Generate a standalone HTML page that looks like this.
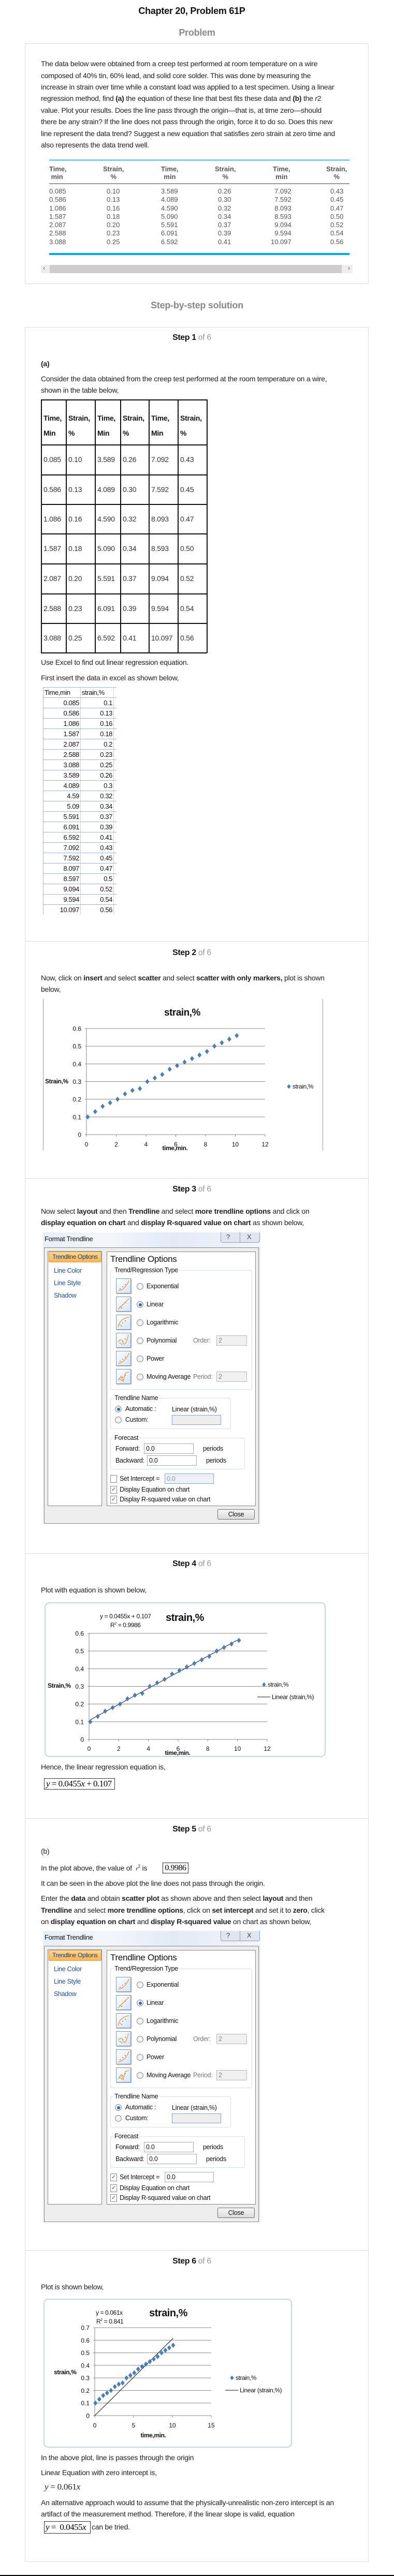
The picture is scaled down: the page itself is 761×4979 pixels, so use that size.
<!DOCTYPE html>
<html><head><meta charset="utf-8">
<style>
html,body{margin:0;padding:0;background:#fff;}
body{position:relative;width:761px;height:4979px;overflow:hidden;font-family:"Liberation Sans",sans-serif;}
.t{position:absolute;white-space:nowrap;font-size:14px;line-height:16px;color:#222;letter-spacing:-0.25px;}
.b{font-weight:bold;}
.box{position:absolute;border:1px solid #ddd;box-sizing:border-box;}
.hr{position:absolute;left:48px;width:664px;height:1px;background:#ddd;}
.step{position:absolute;left:0;width:741px;text-align:center;font-size:16px;line-height:18px;font-weight:bold;color:#111;letter-spacing:-0.4px;}
.step span{font-weight:normal;color:#999;}
.pt{position:absolute;font-size:13px;line-height:15px;color:#555;white-space:nowrap;}
.dlg{position:absolute;left:83px;width:420px;height:563px;font-size:12.5px;letter-spacing:-0.3px;color:#111;}
.dlg .a{position:absolute;white-space:nowrap;line-height:14px;}
svg text{font-family:"Liberation Sans",sans-serif;}
</style></head>
<body>

<div class="t b" style="left:0;width:741px;text-align:center;top:11px;font-size:18px;line-height:20px;color:#111;">Chapter 20, Problem 61P</div>
<div class="t b" style="left:0;width:761px;text-align:center;top:53px;font-size:18px;line-height:20px;color:#888;">Problem</div>

<div class="box" style="left:48px;top:84px;width:664px;height:465px;"></div>
<div>
<div class="t" style="left:79px;top:115px;">The data below were obtained from a creep test performed at room temperature on a wire</div>
<div class="t" style="left:79px;top:138px;">composed of 40% tin, 60% lead, and solid core solder. This was done by measuring the</div>
<div class="t" style="left:79px;top:160px;">increase in strain over time while a constant load was applied to a test specimen. Using a linear</div>
<div class="t" style="left:79px;top:182px;">regression method, find <b>(a)</b> the equation of these line that best fits these data and <b>(b)</b> the <i>r</i>2</div>
<div class="t" style="left:79px;top:205px;">value. Plot your results. Does the line pass through the origin—that is, at time zero—should</div>
<div class="t" style="left:79px;top:227px;">there be any strain? If the line does not pass through the origin, force it to do so. Does this new</div>
<div class="t" style="left:79px;top:250px;">line represent the data trend? Suggest a new equation that satisfies zero strain at zero time and</div>
<div class="t" style="left:79px;top:272px;">also represents the data trend well.</div>
</div>

<div>
<div style="position:absolute;left:95px;top:308px;width:580px;height:3px;background:#7fd0f0;"></div>
<div style="position:absolute;left:95px;top:354px;width:580px;height:2px;background:#999;"></div>
<div style="position:absolute;left:95px;top:489px;width:580px;height:4px;background:#00aeef;"></div>
<div class="pt b" style="left:95px;top:319px;">Time,<br>&nbsp;min</div>
<div class="pt b" style="left:199px;top:319px;text-align:center;">Strain,<br>%</div>
<div class="pt b" style="left:311px;top:319px;text-align:center;">Time,<br>min</div>
<div class="pt b" style="left:415px;top:319px;text-align:center;">Strain,<br>%</div>
<div class="pt b" style="left:527px;top:319px;text-align:center;">Time,<br>min</div>
<div class="pt b" style="left:630px;top:319px;text-align:center;">Strain,<br>%</div>
<div class="pt" style="left:95px;top:362px;line-height:16.3px;">0.085<br>0.586<br>1.086<br>1.587<br>2.087<br>2.588<br>3.088</div>
<div class="pt" style="left:206px;top:362px;line-height:16.3px;">0.10<br>0.13<br>0.16<br>0.18<br>0.20<br>0.23<br>0.25</div>
<div class="pt" style="left:311px;top:362px;line-height:16.3px;">3.589<br>4.089<br>4.590<br>5.090<br>5.591<br>6.091<br>6.592</div>
<div class="pt" style="left:421px;top:362px;line-height:16.3px;">0.26<br>0.30<br>0.32<br>0.34<br>0.37<br>0.39<br>0.41</div>
<div class="pt" style="left:523px;top:362px;line-height:16.3px;text-align:right;">7.092<br>7.592<br>8.093<br>8.593<br>9.094<br>9.594<br>10.097</div>
<div class="pt" style="left:638px;top:362px;line-height:16.3px;">0.43<br>0.45<br>0.47<br>0.50<br>0.52<br>0.54<br>0.56</div>
</div>
<div style="position:absolute;left:79px;top:512px;width:602px;height:16px;background:#eee;">
<div style="position:absolute;left:17px;top:0;width:564px;height:16px;background:#ccc;"></div>
<div style="position:absolute;left:4px;top:-1px;font-size:12px;color:#555;">‹</div>
<div style="position:absolute;right:5px;top:-1px;font-size:12px;color:#555;">›</div>
</div>

<div class="t b" style="left:0;width:761px;text-align:center;top:580px;font-size:18px;line-height:20px;color:#888;">Step-by-step solution</div>

<div class="box" style="left:48px;top:632px;width:664px;height:4320px;"></div>
<div class="hr" style="top:1819px;"></div>
<div class="hr" style="top:2277px;"></div>
<div class="hr" style="top:3002px;"></div>
<div class="hr" style="top:3514px;"></div>
<div class="hr" style="top:4349px;"></div>

<!-- Step 1 -->
<div class="step" style="top:644px;">Step 1 <span>of 6</span></div>
<div class="t b" style="left:79px;top:695px;">(a)</div>
<div class="t" style="left:79px;top:724px;">Consider the data obtained from the creep test performed at the room temperature on a wire,</div>
<div class="t" style="left:79px;top:746px;">shown in the table below,</div>

<div id="t1" style="position:absolute;left:79px;top:772px;width:321px;height:490px;"></div>

<div class="t" style="left:79px;top:1272px;">Use Excel to find out linear regression equation.</div>
<div class="t" style="left:79px;top:1302px;">First insert the data in excel as shown below,</div>
<div id="xl" style="position:absolute;left:83px;top:1328px;width:142px;height:440px;"></div>

<!-- Step 2 -->
<div class="step" style="top:1833px;">Step 2 <span>of 6</span></div>
<div class="t" style="left:79px;top:1882px;">Now, click on <b>insert</b> and select <b>scatter</b> and select <b>scatter with only markers,</b> plot is shown</div>
<div class="t" style="left:79px;top:1904px;">below,</div>
<svg id="c1" style="position:absolute;left:0;top:1931px;" width="761" height="294" viewBox="0 1931 761 294"></svg>

<!-- Step 3 -->
<div class="step" style="top:2290px;">Step 3 <span>of 6</span></div>
<div class="t" style="left:79px;top:2333px;">Now select <b>layout</b> and then <b>Trendline</b> and select <b>more trendline options</b> and click on</div>
<div class="t" style="left:79px;top:2355px;"><b>display equation on chart</b> and <b>display R-squared value on chart</b> as shown below,</div>
<div class="dlg" id="d1" style="top:2382px;"></div>

<!-- Step 4 -->
<div class="step" style="top:3014px;">Step 4 <span>of 6</span></div>
<div class="t" style="left:79px;top:3065px;">Plot with equation is shown below,</div>
<svg id="c2" style="position:absolute;left:0;top:3092px;" width="761" height="305" viewBox="0 3092 761 305"></svg>
<div class="t" style="left:79px;top:3407px;">Hence, the linear regression equation is,</div>
<div style="position:absolute;left:85px;top:3437px;width:132px;height:20px;border:1px solid #333;font-family:'Liberation Serif',serif;font-size:17px;line-height:20px;white-space:nowrap;letter-spacing:-0.5px;padding-left:3px;"><i>y</i> = 0.0455<i>x</i> + 0.107</div>

<!-- Step 5 -->
<div class="step" style="top:3527px;">Step 5 <span>of 6</span></div>
<div class="t" style="left:79px;top:3570px;">(b)</div>
<div class="t" style="left:79px;top:3600px;">In the plot above, the value of &nbsp;<span style="font-family:'Liberation Serif',serif;font-style:italic;font-size:12px;">r</span><sup style="font-size:8px;">2</sup> is</div>
<div style="position:absolute;left:314px;top:3600px;width:48px;height:19px;border:1px solid #333;font-family:'Liberation Serif',serif;font-size:16px;line-height:19px;text-align:center;letter-spacing:-0.5px;">0.9986</div>
<div class="t" style="left:79px;top:3632px;">It can be seen in the above plot the line does not pass through the origin.</div>
<div class="t" style="left:79px;top:3661px;">Enter the <b>data</b> and obtain <b>scatter plot</b> as shown above and then select <b>layout</b> and then</div>
<div class="t" style="left:79px;top:3684px;"><b>Trendline</b> and select <b>more trendline options</b>, click on <b>set intercept</b> and set it to <b>zero</b>, click</div>
<div class="t" style="left:79px;top:3706px;">on <b>display equation on chart</b> and <b>display R-squared value</b> on chart as shown below,</div>
<div class="dlg" id="d2" style="top:3732px;"></div>

<!-- Step 6 -->
<div class="step" style="top:4362px;">Step 6 <span>of 6</span></div>
<div class="t" style="left:79px;top:4412px;">Plot is shown below,</div>
<svg id="c3" style="position:absolute;left:0;top:4440px;" width="761" height="292" viewBox="0 4440 761 292"></svg>
<div class="t" style="left:79px;top:4742px;">In the above plot, line is passes through the origin</div>
<div class="t" style="left:79px;top:4771px;">Linear Equation with zero intercept is,</div>
<div class="t" style="left:86px;top:4797px;font-family:'Liberation Serif',serif;font-size:17px;line-height:20px;"><i>y</i> = 0.061<i>x</i></div>
<div class="t" style="left:79px;top:4829px;">An alternative approach would to assume that the physically-unrealistic non-zero intercept is an</div>
<div class="t" style="left:79px;top:4851px;">artifact of the measurement method. Therefore, if the linear slope is valid, equation</div>
<div style="position:absolute;left:85px;top:4873px;width:86px;height:22px;border:1px solid #333;font-family:'Liberation Serif',serif;font-size:17px;line-height:22px;white-space:nowrap;letter-spacing:-0.5px;padding-left:2px;"><i>y</i> = &nbsp;0.0455<i>x</i></div>
<div class="t" style="left:177px;top:4876px;">can be tried.</div>

<div style="position:absolute;left:0;top:4977px;width:761px;height:2px;background:#000;"></div>

<script>
// ---- data ----
const times = [0.085,0.586,1.086,1.587,2.087,2.588,3.088,3.589,4.089,4.59,5.09,5.591,6.091,6.592,7.092,7.592,8.097,8.597,9.094,9.594,10.097];
const strains = [0.10,0.13,0.16,0.18,0.20,0.23,0.25,0.26,0.30,0.32,0.34,0.37,0.39,0.41,0.43,0.45,0.47,0.50,0.52,0.54,0.56];
const tableTimes = ["0.085","0.586","1.086","1.587","2.087","2.588","3.088","3.589","4.089","4.590","5.090","5.591","6.091","6.592","7.092","7.592","8.093","8.593","9.094","9.594","10.097"];
const tableStrains = ["0.10","0.13","0.16","0.18","0.20","0.23","0.25","0.26","0.30","0.32","0.34","0.37","0.39","0.41","0.43","0.45","0.47","0.50","0.52","0.54","0.56"];
const excelTimes = ["0.085","0.586","1.086","1.587","2.087","2.588","3.088","3.589","4.089","4.59","5.09","5.591","6.091","6.592","7.092","7.592","8.097","8.597","9.094","9.594","10.097"];
const excelStrains = ["0.1","0.13","0.16","0.18","0.2","0.23","0.25","0.26","0.3","0.32","0.34","0.37","0.39","0.41","0.43","0.45","0.47","0.5","0.52","0.54","0.56"];
const ticks12 = [0,2,4,6,8,10,12];
const ticks15 = [0,5,10,15];
const yTicks6 = [0,0.1,0.2,0.3,0.4,0.5,0.6];
const yTicks7 = [0,0.1,0.2,0.3,0.4,0.5,0.6,0.7];
const fit1 = [0.0455, 0.107];
const fit2 = [0.061, 0];

// ---- step 1 table ----
(function(){
  const t = document.getElementById('t1');
  const colX = [0,48,104,153,208,264,320];
  const rowY = [0,87,145,202,259,317,375,432,489];
  let h = '';
  colX.forEach(x=>{h += '<div style="position:absolute;left:'+x+'px;top:0;width:1.5px;height:490px;background:#111"></div>';});
  [0,87,145,202,259,317,375,432,489].forEach(y=>{h += '<div style="position:absolute;left:0;top:'+y+'px;width:321px;height:1.5px;background:#111"></div>';});
  t.innerHTML = h;
  const heads = ['Time,','Strain,','Time,','Strain,','Time,','Strain,'];
  const heads2 = ['Min','%','Min','%','Min','%'];
  for (let c=0;c<6;c++){
    const d = document.createElement('div');
    d.className='t b';
    
    
    d.style.left=(colX[c]+5)+'px'; d.style.top='22px'; d.style.lineHeight='29px'; d.style.color='#111';
    d.innerHTML = heads[c]+'<br>'+heads2[c];
    t.appendChild(d);
  }
  for (let r=0;r<7;r++){
    for (let g=0;g<3;g++){
      const i = g*7+r;
      const a = document.createElement('div');
      a.className='t';
      
      
      a.style.left=(colX[g*2]+5)+'px'; a.style.top=(rowY[r+1]+21)+'px'; a.style.color='#333';
      a.textContent = tableTimes[i];
      t.appendChild(a);
      const b = document.createElement('div');
      b.className='t';
      
      
      b.style.left=(colX[g*2+1]+5)+'px'; b.style.top=(rowY[r+1]+21)+'px'; b.style.color='#333';
      b.textContent = tableStrains[i];
      t.appendChild(b);
    }
  }
})();

// ---- excel sheet ----
(function(){
  const x = document.getElementById('xl');
  let h = '<div style="position:absolute;left:0;top:0;width:1px;height:440px;background:#9fb6d6"></div>'+
          '<div style="position:absolute;left:72px;top:0;width:1px;height:440px;background:#c8d4e4"></div>'+
          '<div style="position:absolute;left:136px;top:0;width:1px;height:440px;background:#c8d4e4"></div>';
  for (let r=0;r<=21;r++) h += '<div style="position:absolute;left:0;top:'+(r*20)+'px;width:142px;height:1px;background:#9fb6d6"></div>';
  h += '<div class="t" style="left:3px;top:3px;font-size:13px;letter-spacing:-0.4px;color:#111">Time,min</div>';
  h += '<div class="t" style="left:75px;top:3px;font-size:13px;letter-spacing:-0.4px;color:#111">strain,%</div>';
  x.innerHTML = h;
  for (let r=0;r<excelTimes.length;r++){
    const a = document.createElement('div');
    a.className='t';
    
    
    a.style.cssText += 'right:72px;top:'+(r*20+23)+'px;font-size:13px;letter-spacing:-0.4px;color:#111;';
    a.textContent = excelTimes[r];
    x.appendChild(a);
    const b = document.createElement('div');
    b.className='t';
    
    
    b.style.cssText += 'right:8px;top:'+(r*20+23)+'px;font-size:13px;letter-spacing:-0.4px;color:#111;';
    b.textContent = excelStrains[r];
    x.appendChild(b);
  }
})();

// ---- charts ----
const NS='http://www.w3.org/2000/svg';
function el(svg, tag, attrs, txt){
  const e=document.createElementNS(NS,tag);
  for (const k in attrs) e.setAttribute(k, attrs[k]);
  if (txt!==undefined) e.textContent=txt;
  svg.appendChild(e); return e;
}
function drawChart(id, o){
  const svg=document.getElementById(id);
  const xs = v => o.x0 + v/o.xmax*(o.x1-o.x0);
  const ys = v => o.y0 - v/o.ymax*(o.y0-o.y1);
  if (o.frame){
    const f = el(svg,'rect',{x:o.frame[0],y:o.frame[1],width:o.frame[2],height:o.frame[3],rx:8,fill:'none',stroke:'#b4ccd2','stroke-width':1.5});
    
    
  }
  o.yTicks.forEach(v=>{
    if (v>0){
      const g = el(svg,'line',{x1:o.x0,x2:o.x1,y1:ys(v),y2:ys(v),stroke:'#8a8a8a','stroke-width':1});
      
      
    }
    const l = el(svg,'text',{x:o.x0-10,y:ys(v)+4.5,'text-anchor':'end','font-size':12,fill:'#111'}, String(v));
    
    
    el(svg,'line',{x1:o.x0-3,x2:o.x0,y1:ys(v),y2:ys(v),stroke:'#8a8a8a'});
  });
  const ax = el(svg,'path',{d:'M'+o.x0+' '+o.y1+' V'+o.y0+' H'+o.x1,stroke:'#8a8a8a',fill:'none'});
  
  
  o.xTicks.forEach(v=>{
    el(svg,'line',{x1:xs(v),x2:xs(v),y1:o.y0,y2:o.y0+4,stroke:'#8a8a8a'});
    const l = el(svg,'text',{x:xs(v),y:o.xLabY,'text-anchor':'middle','font-size':12,fill:'#111'}, String(v));
    
    
  });
  if (o.fit){
    const xa=o.fitRange[0], xb=o.fitRange[1];
    const ln = el(svg,'line',{x1:xs(xa),y1:ys(o.fit[0]*xa+o.fit[1]),x2:xs(xb),y2:ys(o.fit[0]*xb+o.fit[1]),stroke:'#111','stroke-width':1});
    
    
  }
  for (let i=0;i<times.length;i++){
    const cx=xs(times[i]), cy=ys(strains[i]), s=o.ms;
    const p = el(svg,'path',{d:'M'+cx+' '+(cy-s)+' L'+(cx+s*0.8)+' '+cy+' L'+cx+' '+(cy+s)+' L'+(cx-s*0.8)+' '+cy+' Z',fill:'#4a7ebb'});
    
    
  }
  const tt = el(svg,'text',{x:o.title[0],y:o.title[1],'text-anchor':'middle','font-size':o.title[2],'font-weight':'bold',fill:'#111','letter-spacing':'-0.5'},'strain,%');
  
  
  const yt = el(svg,'text',{x:o.yTitle[0],y:o.yTitle[1],'font-size':12,'font-weight':'bold',fill:'#111','letter-spacing':'-0.4'},o.yTitle[2]);
  
  
  const xt = el(svg,'text',{x:o.xTitle[0],y:o.xTitle[1],'text-anchor':'middle','font-size':12,'font-weight':'bold',fill:'#111','letter-spacing':'-0.4'},'time,min.');
  
  
  const lx=o.legend[0], ly=o.legend[1];
  el(svg,'path',{d:'M'+lx+' '+(ly-4.5)+' l3.6 4.5 l-3.6 4.5 l-3.6 -4.5 Z',fill:'#4a7ebb'});
  const lt = el(svg,'text',{x:lx+7,y:ly+4,'font-size':12,fill:'#111','letter-spacing':'-0.4'},'strain,%');
  
  
  if (o.fit){
    el(svg,'line',{x1:lx-13,x2:lx+12,y1:ly+24,y2:ly+24,stroke:'#111'});
    const lt2 = el(svg,'text',{x:lx+15,y:ly+28,'font-size':12,fill:'#111','letter-spacing':'-0.4'},'Linear (strain,%)');
    
    
  }
  if (o.eq){
    const e1 = el(svg,'text',{x:o.eq[0],y:o.eq[1],'font-size':12,fill:'#111','letter-spacing':'-0.4'},o.eq[2]);
    
    
    const e2 = el(svg,'text',{x:o.eq[3],y:o.eq[4],'font-size':12,fill:'#111','letter-spacing':'-0.4'});
    
    
    e2.innerHTML = 'R<tspan font-size="7" dy="-5">2</tspan><tspan dy="5"> = '+o.eq[5]+'</tspan>';
  }
}
// chart 1 borders
(function(){
  const s=document.getElementById('c1');
  el(s,'line',{x1:83.5,x2:83.5,y1:1931,y2:2224,stroke:'#999'});
  el(s,'line',{x1:623.5,x2:623.5,y1:1931,y2:2224,stroke:'#999'});
})();
drawChart('c1',{x0:167,x1:512,xmax:12,y0:2193,y1:1988,ymax:0.6,xTicks:ticks12,yTicks:yTicks6,xLabY:2216,ms:5,
  title:[352,1963,19],yTitle:[87,2094,'Strain,%'],xTitle:[338,2223],legend:[558,2100]});
drawChart('c2',{x0:172,x1:516,xmax:12,y0:3362,y1:3157,ymax:0.6,xTicks:ticks12,yTicks:yTicks6,xLabY:3384,ms:5,
  frame:[87,3098,541,297],fit:fit1,fitRange:[0.085,10.097],
  title:[357,3133,20],yTitle:[92,3262,'Strain,%'],xTitle:[343,3392],legend:[510,3256],
  eq:[193,3128,'y = 0.0455x + 0.107',213,3145,'0.9986']});
drawChart('c3',{x0:183,x1:408,xmax:15,y0:4669,y1:4499,ymax:0.7,xTicks:ticks15,yTicks:yTicks7,xLabY:4692,ms:5,
  frame:[85,4444,478,286],fit:fit2,fitRange:[0,10.1],
  title:[325,4477,20],yTitle:[104,4589,'strain,%'],xTitle:[296,4711],legend:[448,4596],
  eq:[185,4474,'y = 0.061x',186,4491,'0.841']});

// ---- dialogs ----
function icon(kind){
  const paths={exp:'M4 24 Q18 22 25 4',lin:'M4 25 L25 4',log:'M4 25 Q6 8 25 5',poly:'M4 18 Q10 8 14 20 Q18 28 24 4',pow:'M4 25 Q20 20 25 4',mov:'M4 22 L10 14 L14 24 L18 8 L25 6'};
  return '<svg width="29" height="29" style="position:absolute;left:0;top:0"><defs><linearGradient id="ig" x1="0" y1="0" x2="1" y2="1"><stop offset="0" stop-color="#fff"/><stop offset="1" stop-color="#d6e4f5"/></linearGradient></defs><rect x="0.5" y="0.5" width="28" height="28" fill="url(#ig)" stroke="#7a96bd"/><circle cx="8" cy="20" r="0.8" fill="#333"/><circle cx="13" cy="16" r="0.8" fill="#333"/><circle cx="18" cy="12" r="0.8" fill="#333"/><circle cx="11" cy="22" r="0.8" fill="#333"/><path d="'+paths[kind]+'" stroke="#f39a2b" stroke-width="1.3" fill="none"/></svg>';
}
function radio(x,y,on){
  return '<div style="position:absolute;left:'+(x-6)+'px;top:'+(y-6)+'px;width:11px;height:11px;border-radius:50%;border:1px solid #8d8d8d;background:radial-gradient(#fff,#ddd)">'+(on?'<div style="position:absolute;left:2.5px;top:2.5px;width:6px;height:6px;border-radius:50%;background:#1c6fb8"></div>':'')+'</div>';
}
function check(y,on){
  return '<div style="position:absolute;left:130px;top:'+(y-7)+'px;width:11px;height:13px;border:1px solid #8d8d8d;background:#fff;font-size:11px;line-height:13px;color:#2a55a5;text-align:center">'+(on?'✓':'')+'</div>';
}
function box(l,t,w,h,val,bg,bc,col){
  return '<div style="position:absolute;left:'+l+'px;top:'+t+'px;width:'+w+'px;height:'+h+'px;box-sizing:border-box;border:1px solid '+bc+';background:'+bg+';color:'+col+';padding-left:3px;line-height:'+(h-2)+'px">'+val+'</div>';
}
function group(l,t,w,h,label){
  return '<div style="position:absolute;left:'+l+'px;top:'+t+'px;width:'+w+'px;height:'+h+'px;box-sizing:border-box;border:1px solid #d5dfe5;border-radius:3px"></div><div class="a" style="left:'+(l+6)+'px;top:'+(t-7)+'px;background:#fff;padding:0 2px">'+label+'</div>';
}
function buildDialog(id, interceptOn){
  const d=document.getElementById(id);
  let h='';
  h+='<div style="position:absolute;left:0;top:0;width:420px;height:563px;background:#ededed"></div>';
  h+='<div style="position:absolute;left:0;top:0;width:420px;height:29px;background:linear-gradient(90deg,#e6eef8,#f3f7fc 30%,#e1eaf6 60%,#f2f6fb)"></div>';
  h+='<div class="a" style="left:3px;top:6px;font-size:13px">Format Trendline</div>';
  h+='<div style="position:absolute;left:343px;top:0;width:74px;height:19px;border:1px solid #99a;border-top:none;border-radius:0 0 4px 4px;background:#dfe6ef;font-size:13px;line-height:18px;color:#444"><span style="position:absolute;left:10px">?</span><span style="position:absolute;left:36px;top:0;width:1px;height:19px;background:#99a"></span><span style="position:absolute;left:50px">X</span></div>';
  h+='<div style="position:absolute;left:2px;top:29px;width:415px;height:534px;box-sizing:border-box;border:1.5px solid #8a8a8a;border-bottom-width:1.5px"></div>';
  h+='<div style="position:absolute;left:9px;top:36px;width:105px;height:493px;box-sizing:border-box;border:1px solid #8a8a8a;background:#fff"></div>';
  h+='<div style="position:absolute;left:11px;top:37px;width:102px;height:21px;border:1px solid #e0a040;border-radius:2px;box-sizing:border-box;background:linear-gradient(#ffd79a,#f8b551);color:#1d3c6e;line-height:19px;padding-left:6px;white-space:nowrap;overflow:hidden;font-size:12px;letter-spacing:-0.4px">Trendline Options</div>';
  h+='<div class="a" style="left:21px;top:67px;color:#1f4e9a">Line Color</div>';
  h+='<div class="a" style="left:21px;top:91px;color:#1f4e9a">Line Style</div>';
  h+='<div class="a" style="left:21px;top:115px;color:#1f4e9a">Shadow</div>';
  h+='<div style="position:absolute;left:123px;top:37px;width:288px;height:492px;box-sizing:border-box;border:1px solid #8a8a8a;background:#fff"></div>';
  h+='<div class="a" style="left:130px;top:42px;font-size:17px;line-height:20px">Trendline Options</div>';
  h+=group(130,73,274,231,'Trend/Regression Type');
  const rows=[['exp','Exponential'],['lin','Linear'],['log','Logarithmic'],['poly','Polynomial'],['pow','Power'],['mov','Moving Average']];
  rows.forEach((r,i)=>{
    const cy=104+i*35;
    h+='<div style="position:absolute;left:141px;top:'+(cy-15)+'px;width:29px;height:29px;box-shadow:1px 1px 1px #aaa">'+icon(r[0])+'</div>';
    h+=radio(187,cy,r[0]==='lin');
    h+='<div class="a" style="left:200px;top:'+(cy-7)+'px">'+r[1]+'</div>';
  });
  h+='<div class="a" style="left:290px;top:'+(209-7)+'px;color:#777">Order:</div>'+box(335,199,59,20,'2','#f0f0f0','#bbb','#888');
  h+='<div class="a" style="left:290px;top:'+(279-7)+'px;color:#777">Period:</div>'+box(335,269,59,20,'2','#f0f0f0','#bbb','#888');
  h+=group(130,320,233,60,'Trendline Name');
  h+=radio(145,341,true)+'<div class="a" style="left:159px;top:334px">Automatic :</div><div class="a" style="left:249px;top:335px">Linear (strain,%)</div>';
  h+=radio(145,362,false)+'<div class="a" style="left:159px;top:355px">Custom:</div>'+box(249,353,95,19,'','#eeeeee','#8aa3c8','#888');
  h+=group(130,397,260,61,'Forecast');
  h+='<div class="a" style="left:140px;top:411px">Forward:</div>'+box(195,408,96,20,'0.0','#fff','#aaa','#111')+'<div class="a" style="left:309px;top:411px">periods</div>';
  h+='<div class="a" style="left:140px;top:434px">Backward:</div>'+box(201,431,96,20,'0.0','#fff','#aaa','#111')+'<div class="a" style="left:315px;top:434px">periods</div>';
  h+=check(476,interceptOn)+'<div class="a" style="left:148px;top:469px">Set Intercept =</div>';
  h+=interceptOn?box(235,466,95,20,'0.0','#fff','#aaa','#111'):box(235,466,95,20,'0.0','#eef1f8','#8aa3c8','#999');
  h+=check(497,true)+'<div class="a" style="left:148px;top:490px">Display Equation on chart</div>';
  h+=check(516,true)+'<div class="a" style="left:148px;top:509px">Display R-squared value on chart</div>';
  h+='<div style="position:absolute;left:337px;top:535px;width:72px;height:20px;box-sizing:border-box;border:1px solid #707070;border-radius:3px;background:linear-gradient(#f6f6f6,#dcdcdc);text-align:center;line-height:18px">Close</div>';
  d.innerHTML=h;
}
buildDialog('d1', false);
buildDialog('d2', true);
</script>
</body></html>
